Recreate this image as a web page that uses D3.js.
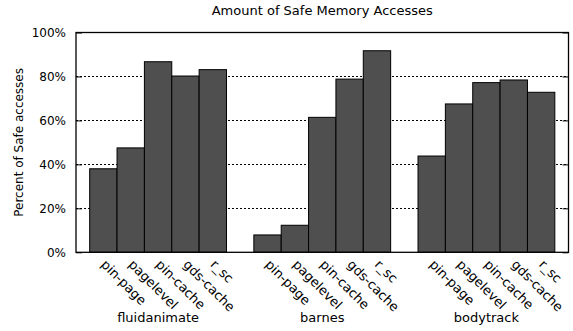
<!DOCTYPE html>
<html>
<head>
<meta charset="utf-8">
<script src="https://cdn.jsdelivr.net/npm/d3@7"></script>
<style>
  body { margin: 0; background: #fff; }
  text { font-family: "DejaVu Sans", sans-serif; fill: #000; }
</style>
</head>
<body>
<svg id="chart" width="573" height="331"></svg>
<script>
// Benchmarks (clusters) and configurations (bars within each cluster)
const benchmarks = ["fluidanimate", "barnes", "bodytrack"];
const configs = ["pin-page", "pagelevel", "pin-cache", "gds-cache", "r_sc"];

// Percent of safe accesses, one array per benchmark, in config order
const fluidanimate = [38.0, 47.5, 86.7, 80.2, 83.1];
const barnes = [7.9, 12.3, 61.4, 78.8, 91.7];
const bodytrack = [43.8, 67.5, 77.2, 78.4, 72.8];

const yTicks = [0, 20, 40, 60, 80, 100];

const seriesByBenchmark = { fluidanimate, barnes, bodytrack };
const rows = benchmarks.flatMap(b =>
  configs.map((c, i) => ({ benchmark: b, config: c, value: seriesByBenchmark[b][i] })));

const svg = d3.select("#chart");
const margin = { left: 76, right: 4.5, top: 32.5, bottom: 78.7 };
const W = 573, H = 331;
const x0 = margin.left, x1 = W - margin.right;
const y0 = H - margin.bottom, y1 = margin.top;

const xGroup = d3.scaleBand().domain(benchmarks).range([x0, x1]).padding(0);
const xBar = d3.scaleBand().domain(configs).range([0, xGroup.bandwidth()])
  .paddingInner(0).paddingOuter(0.5);
const y = d3.scaleLinear().domain([0, 100]).range([y0, y1]);

// Dotted horizontal grid
svg.append("g").selectAll("line")
  .data(yTicks.filter(t => t > 0 && t < 100))
  .join("line")
  .attr("x1", x0).attr("x2", x1)
  .attr("y1", d => y(d)).attr("y2", d => y(d))
  .attr("stroke", "#000").attr("stroke-width", 1)
  .attr("stroke-dasharray", "2,2")
  .attr("shape-rendering", "crispEdges");

// Bars
svg.append("g").selectAll("rect")
  .data(rows)
  .join("rect")
  .attr("x", d => xGroup(d.benchmark) + xBar(d.config))
  .attr("y", d => y(d.value))
  .attr("width", xBar.bandwidth())
  .attr("height", d => y(0) - y(d.value))
  .attr("fill", "#4f4f4f")
  .attr("stroke", "#000")
  .attr("stroke-width", 1);

// Frame
svg.append("rect")
  .attr("x", x0).attr("y", y1)
  .attr("width", x1 - x0).attr("height", y0 - y1)
  .attr("fill", "none").attr("stroke", "#000").attr("stroke-width", 1.3);

// Y axis (left) with inward ticks
const yAxisL = d3.axisLeft(y).tickValues(yTicks).tickFormat(d => d + "%")
  .tickSizeInner(-6).tickSizeOuter(0).tickPadding(10);
const gL = svg.append("g").attr("transform", `translate(${x0},0)`).call(yAxisL);
gL.select(".domain").remove();
gL.selectAll("text").style("font-size", "12px").attr("fill", "#000");
gL.selectAll("line").attr("stroke", "#000");

// Mirrored ticks on the right
const yAxisR = d3.axisRight(y).tickValues(yTicks).tickFormat("")
  .tickSizeInner(-6).tickSizeOuter(0);
const gR = svg.append("g").attr("transform", `translate(${x1},0)`).call(yAxisR);
gR.select(".domain").remove();
gR.selectAll("line").attr("stroke", "#000");

// Rotated config labels under each bar
svg.append("g").selectAll("text")
  .data(rows)
  .join("text")
  .attr("transform", d => {
    const cx = xGroup(d.benchmark) + xBar(d.config) + xBar.bandwidth() / 2;
    return `translate(${cx - 3},${y0 + 13}) rotate(45)`;
  })
  .attr("text-anchor", "start")
  .style("font-size", "13px")
  .text(d => d.config);

// Benchmark names
svg.append("g").selectAll("text")
  .data(benchmarks)
  .join("text")
  .attr("x", d => xGroup(d) + xGroup.bandwidth() / 2)
  .attr("y", 321.5)
  .attr("text-anchor", "middle")
  .style("font-size", "13px")
  .text(d => d);

// Y axis title
svg.append("text")
  .attr("transform", `translate(23,${(y0 + y1) / 2}) rotate(-90)`)
  .attr("text-anchor", "middle")
  .style("font-size", "12px")
  .text("Percent of Safe accesses");

// Chart title
svg.append("text")
  .attr("x", (x0 + x1) / 2)
  .attr("y", 14.5)
  .attr("text-anchor", "middle")
  .style("font-size", "13px")
  .text("Amount of Safe Memory Accesses");
</script>
</body>
</html>
